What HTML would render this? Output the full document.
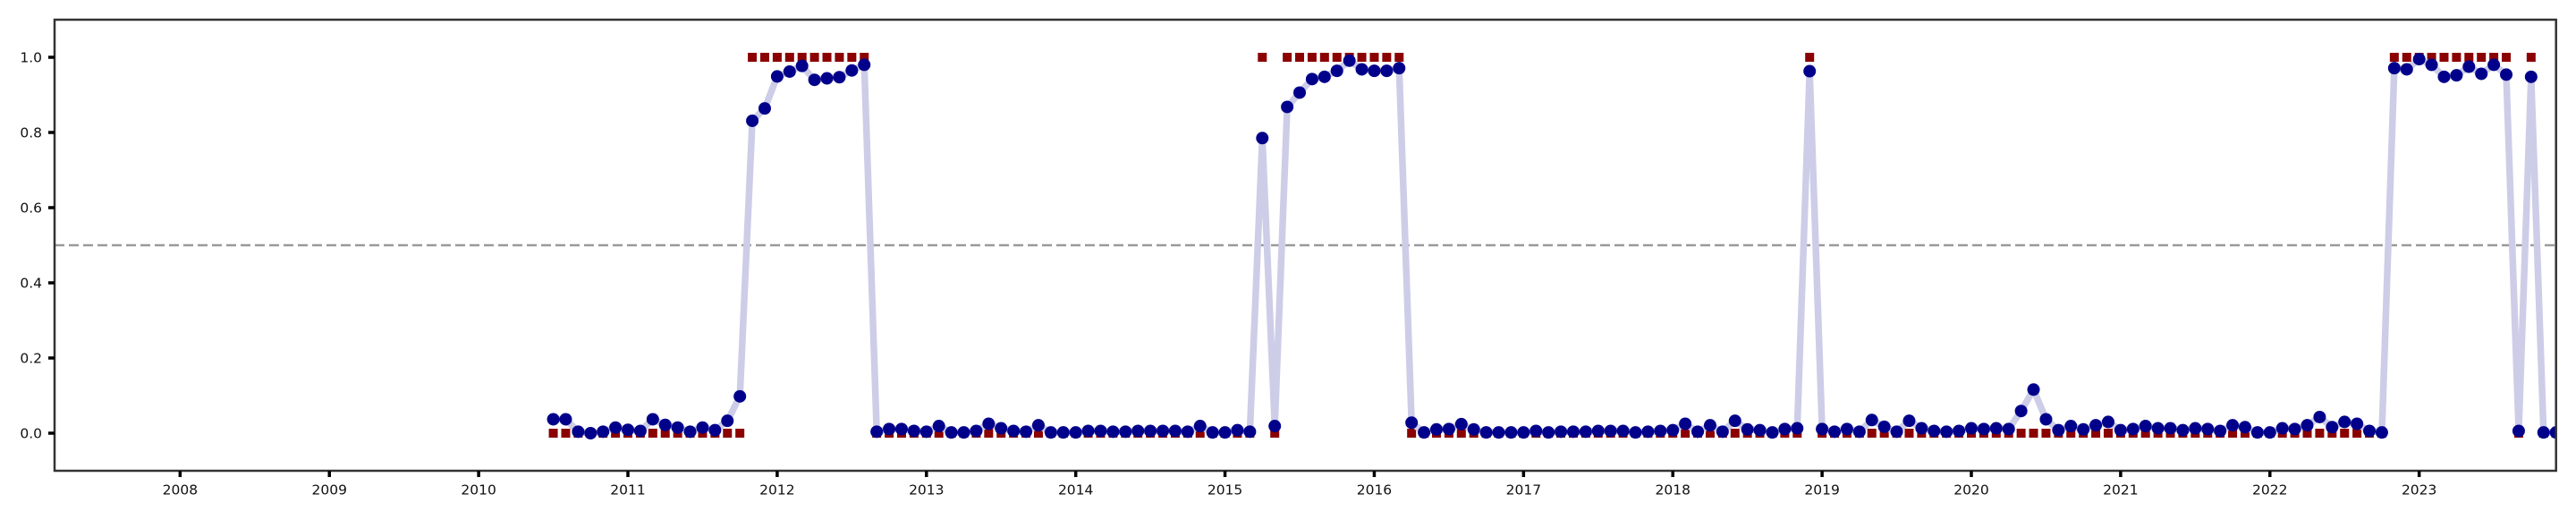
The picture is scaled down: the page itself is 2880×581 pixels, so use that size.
<!DOCTYPE html>
<html><head><meta charset="utf-8"><style>
html,body{margin:0;padding:0;background:#fff;}
svg text{font-family:"DejaVu Sans","Liberation Sans",sans-serif;font-size:15.5px;fill:#111;}
</style></head><body>
<svg id="chart" width="2880" height="576" xmlns="http://www.w3.org/2000/svg">
<defs><clipPath id="plotclip"><rect x="61" y="22" width="2797" height="504"/></clipPath></defs>
<g id="grid"></g>
<g id="plot" clip-path="url(#plotclip)"></g>
<g id="axes"></g>
</svg>
<script>
const startYear = 2010, startMonth = 7; // first month of series (July 2010)
const probValues = [
0.037,0.037,0.004,0.0,0.004,0.015,0.009,0.006,0.037,0.022,0.015,0.004,0.015,0.008,0.033,0.098,
0.831,0.864,0.949,0.962,0.977,0.940,0.944,0.947,0.965,0.980,
0.004,0.011,0.011,0.006,0.004,0.019,0.002,0.002,0.006,0.025,0.013,0.006,0.004,0.021,0.002,0.002,0.002,0.006,0.006,0.004,0.004,0.006,0.006,0.006,0.006,0.004,0.019,0.002,0.002,0.008,0.004,
0.785,0.019,0.868,0.906,0.942,0.948,0.964,0.991,0.968,0.964,0.964,0.971,
0.028,0.002,0.010,0.011,0.024,0.010,0.002,0.002,0.002,0.002,0.006,0.002,0.004,0.004,0.004,0.006,0.006,0.006,0.002,0.004,0.006,0.008,0.025,0.004,0.021,0.004,0.033,0.010,0.008,0.002,0.011,0.013,
0.963,
0.011,0.004,0.011,0.004,0.035,0.017,0.004,0.033,0.013,0.006,0.004,0.006,0.013,0.011,0.013,0.011,0.059,0.116,0.037,0.008,0.019,0.010,0.021,0.030,0.008,0.011,0.019,0.013,0.013,0.008,0.013,0.011,0.006,0.021,0.016,0.002,0.002,0.013,0.011,0.021,0.043,0.016,0.030,0.025,0.006,0.002,
0.971,0.968,0.995,0.980,0.948,0.952,0.975,0.956,0.980,0.954,
0.006,0.948,0.002,0.002
];
const labelValues = [
0,0,0,0,0,0,0,0,0,0,0,0,0,0,0,0,
1,1,1,1,1,1,1,1,1,1,
0,0,0,0,0,0,0,0,0,0,0,0,0,0,0,0,0,0,0,0,0,0,0,0,0,0,0,0,0,0,0,
1,0,1,1,1,1,1,1,1,1,1,1,
0,0,0,0,0,0,0,0,0,0,0,0,0,0,0,0,0,0,0,0,0,0,0,0,0,0,0,0,0,0,0,0,
1,
0,0,0,0,0,0,0,0,0,0,0,0,0,0,0,0,0,0,0,0,0,0,0,0,0,0,0,0,0,0,0,0,0,0,0,0,0,0,0,0,0,0,0,0,0,0,
1,1,1,1,1,1,1,1,1,1,
0,1,0,0
];
const yTicks = [0.0,0.2,0.4,0.6,0.8,1.0];
const yTickLabels = ["0.0","0.2","0.4","0.6","0.8","1.0"];
const xTicks = [2008,2009,2010,2011,2012,2013,2014,2015,2016,2017,2018,2019,2020,2021,2022,2023];
const threshold = [0.5];

const NS="http://www.w3.org/2000/svg";
const L=61,R=2857.7,T=22,B=526;
const X0=2007.159,X1=2023.917,Y0=-0.1,Y1=1.1;
function xs(t){return L+(t-X0)/(X1-X0)*(R-L);}
function ys(v){return B-(v-Y0)/(Y1-Y0)*(B-T);}
function mk(tag,attrs,parent){const e=document.createElementNS(NS,tag);for(const k in attrs)e.setAttribute(k,attrs[k]);parent.appendChild(e);return e;}
const dates=probValues.map((_,i)=>startYear+(startMonth-1+i)/12);
const plot=document.getElementById('plot'),axes=document.getElementById('axes'),grid=document.getElementById('grid');

threshold.forEach(v=>{
 const l=mk('line',{x1:L,x2:R,y1:ys(v),y2:ys(v),stroke:'#999',"stroke-width":2.6,"stroke-dasharray":"11,5"},grid);
 
 
});
labelValues.forEach((v,i)=>{
 const s=mk('rect',{x:xs(dates[i])-5,y:ys(v)-5,width:10,height:10,fill:'#8b0000'},plot);
 
 
});
const pl=mk('polyline',{points:probValues.map((v,i)=>xs(dates[i])+','+ys(v)).join(' '),fill:'none',stroke:'#cdcde8',"stroke-width":7.5,"stroke-linejoin":'round'},plot);


probValues.forEach((v,i)=>{
 const c=mk('circle',{cx:xs(dates[i]),cy:ys(v),r:7,fill:'#00008b'},plot);
 
 
});
const fr=mk('rect',{x:L,y:T,width:R-L,height:B-T,fill:'none',stroke:'#333',"stroke-width":2.5},axes);


yTicks.forEach((v,i)=>{
 const tk=mk('line',{x1:L-7,x2:L,y1:ys(v),y2:ys(v),stroke:'#000',"stroke-width":3.5},axes);
 
 
 const tx=mk('text',{x:47,y:ys(v)+5.5,"text-anchor":'end'},axes);
 tx.textContent=yTickLabels[i];
 
 
});
xTicks.forEach(t=>{
 const tk=mk('line',{x1:xs(t),x2:xs(t),y1:B,y2:B+7,stroke:'#000',"stroke-width":3.5},axes);
 
 
 const tx=mk('text',{x:xs(t),y:552.5,"text-anchor":'middle'},axes);
 tx.textContent=String(t);
 
 
});
</script>
</body></html>
